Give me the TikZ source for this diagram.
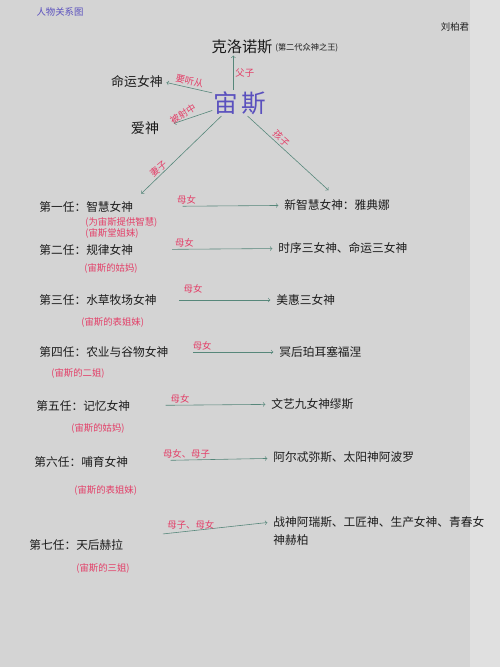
\documentclass[tikz,border=0pt]{standalone}
\usepackage{fontspec}
\setmainfont{Noto Sans CJK SC}
\usetikzlibrary{positioning}

\definecolor{paper}{HTML}{D4D4D4}
\definecolor{paperedge}{HTML}{E0E0E0}
\definecolor{inkred}{HTML}{E33F68}
\definecolor{inkpurple}{HTML}{5A50BE}
\definecolor{inkgreen}{HTML}{56877A}
\definecolor{ink}{HTML}{1C1C1C}

\tikzset{
  rel/.style={->, draw=inkgreen, line width=0.5pt},
  tag/.style={text=inkred, font=\fontsize{8}{10}\selectfont, inner sep=1.5pt},
  note/.style={text=inkred, font=\fontsize{8}{10}\selectfont, anchor=west},
  wife/.style={anchor=west},
  child/.style={anchor=west}
}

\begin{document}
\begin{tikzpicture}[x=0.03cm, y=-0.03cm,
    every node/.style={inner sep=1pt, text=ink, font=\fontsize{10}{12}\selectfont}]
    \fill[paper] (0,0) rectangle (500,667);
    \fill[paperedge] (470,0) rectangle (500,667);
    \useasboundingbox (0,0) rectangle (500,667);

    \node[text=inkpurple, font=\fontsize{8}{10}\selectfont] (title) at (60,12) {人物关系图};
    \node[font=\fontsize{8}{10}\selectfont] (author) at (455,27) {刘柏君};

    \node[font=\fontsize{13}{15}\selectfont] (kronos) at (242,47) {克洛诺斯};
    \node[font=\fontsize{7}{9}\selectfont, right=0pt of kronos, yshift=-1pt] (kronosnote) {(第二代众神之王)};
    \node[text=inkpurple, font=\fontsize{21}{24}\selectfont] (zeus) at (240,103) {宙\hspace{3pt}斯};
    \node[font=\fontsize{11}{13}\selectfont] (fate) at (137,82) {命运女神};
    \node[font=\fontsize{12}{14}\selectfont] (love) at (145,128) {爱神};

    \node[wife] (w1) at (38,207) {第一任：智慧女神};
    \node[wife] (w2) at (38,250) {第二任：规律女神};
    \node[wife] (w3) at (38,300) {第三任：水草牧场女神};
    \node[wife] (w4) at (38,352) {第四任：农业与谷物女神};
    \node[wife] (w5) at (35,406) {第五任：记忆女神};
    \node[wife] (w6) at (33,462) {第六任：哺育女神};
    \node[wife] (w7) at (28,545) {第七任：天后赫拉};

    \node[note] (n1a) at (84,222) {(为宙斯提供智慧)};
    \node[note] (n1b) at (84,233) {(宙斯堂姐妹)};
    \node[note] (n2) at (83,268) {(宙斯的姑妈)};
    \node[note] (n3) at (80,322) {(宙斯的表姐妹)};
    \node[note] (n4) at (50,373) {(宙斯的二姐)};
    \node[note] (n5) at (70,428) {(宙斯的姑妈)};
    \node[note] (n6) at (73,490) {(宙斯的表姐妹)};
    \node[note] (n7) at (75,568) {(宙斯的三姐)};

    \node[child] (c1) at (283,205) {新智慧女神：雅典娜};
    \node[child] (c2) at (277,248) {时序三女神、命运三女神};
    \node[child] (c3) at (275,300) {美惠三女神};
    \node[child] (c4) at (278,352) {冥后珀耳塞福涅};
    \node[child] (c5) at (270,404) {文艺九女神缪斯};
    \node[child] (c6) at (272,457) {阿尔忒弥斯、太阳神阿波罗};
    \node[child] (c7) at (272,522) {战神阿瑞斯、工匠神、生产女神、青春女};
    \node[anchor=north west] (c7more) at ([yshift=-4pt]c7.south west) {神赫柏};

    \draw[rel] ([xshift=-0.2cm]zeus.north) -- ([xshift=-0.2cm]zeus.north |- kronos.south)
        node[tag, midway, right] {父子};
    \draw[rel, shorten >=2pt] (zeus.160) -- (fate.east)
        node[tag, midway, rotate=-12, anchor=south] {要听从};
    \draw[rel, shorten >=12pt] (zeus.-165) -- (love.east)
        node[tag, midway, rotate=32, anchor=south] {被射中};
    \draw[rel, shorten >=8pt] (zeus.-145) -- (w1.north east)
        node[tag, pos=0.68, rotate=40, anchor=south] {妻子};
    \draw[rel, shorten >=10pt] (zeus.-60) -- (c1.north)
        node[tag, pos=0.33, rotate=-42, anchor=south] {孩子};

    \draw[rel, shorten <=41pt, shorten >=4pt] (w1) -- (c1) node[tag, pos=0.35, above] {母女};
    \draw[rel, shorten <=32pt, shorten >=4pt] (w2) -- (c2) node[tag, pos=0.35, above] {母女};
    \draw[rel, shorten <=18pt, shorten >=4pt] (w3) -- (c3) node[tag, pos=0.3, above, yshift=4pt] {母女};
    \draw[rel, shorten <=20pt, shorten >=4pt] (w4) -- (c4) node[tag, pos=0.3, above] {母女};
    \draw[rel, shorten <=29pt, shorten >=4pt] (w5) -- (c5) node[tag, pos=0.35, above] {母女};
    \draw[rel, shorten <=35pt, shorten >=4pt] (w6) -- (c6) node[tag, pos=0.4, above] {母女、母子};
    \draw[rel, shorten <=33pt, shorten >=4pt] (w7.north east) -- (c7.west) node[tag, pos=0.45, above] {母子、母女};
\end{tikzpicture}
\end{document}
